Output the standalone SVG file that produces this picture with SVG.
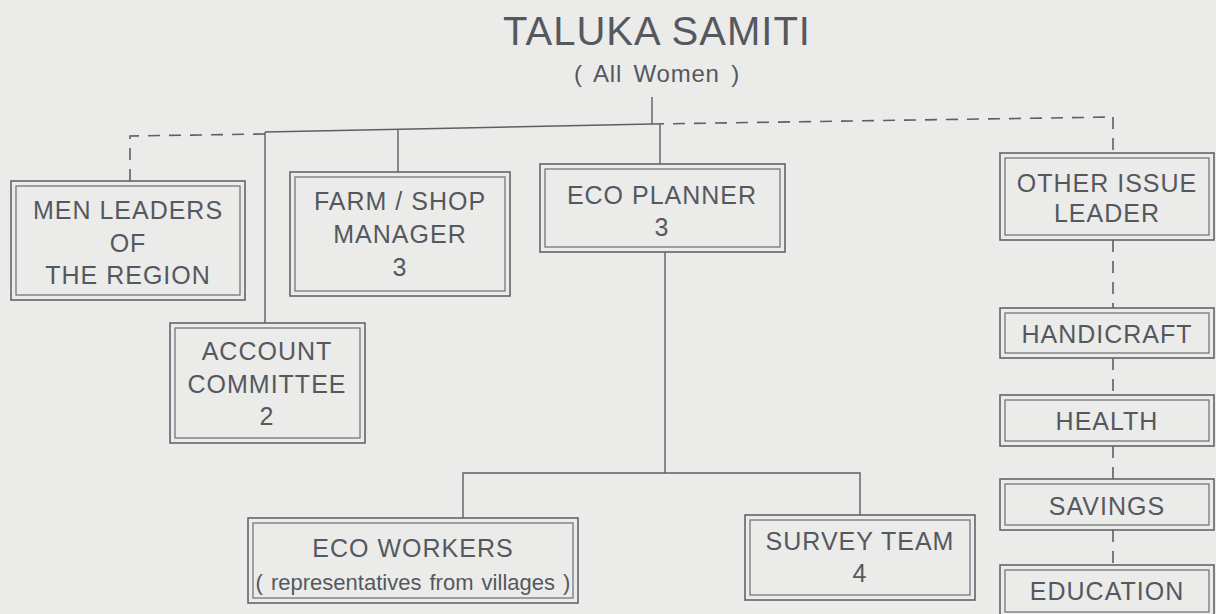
<svg xmlns="http://www.w3.org/2000/svg" width="1216" height="614" viewBox="0 0 1216 614">
<style>
.bg{fill:#ebebea}
.o{fill:none;stroke:#62656c;stroke-width:1.6}
.i{fill:none;stroke:#6a6d74;stroke-width:1.2}
.t{font-family:"Liberation Sans",Arial,sans-serif;font-size:25px;fill:#55585e;text-anchor:middle;letter-spacing:1px}
.s{font-family:"Liberation Sans",Arial,sans-serif;font-size:22px;fill:#55585e;text-anchor:middle;word-spacing:2px}
.ln{fill:none;stroke:#5c5f66;stroke-width:1.4}
.ds{fill:none;stroke:#5c5f66;stroke-width:1.6;stroke-dasharray:12 9}
</style>
<rect class="bg" x="0" y="0" width="1216" height="614"/>

<g id="title">
<text class="t" x="657" y="45" style="font-size:40px;letter-spacing:1px">TALUKA SAMITI</text>
<text class="s" x="657" y="82" style="font-size:24px;letter-spacing:0.8px;word-spacing:4px">( All Women )</text>
</g>

<g id="connectors">
<line class="ln" x1="652" y1="97" x2="652" y2="124"/>
<line class="ln" x1="265" y1="132" x2="652" y2="124"/>
<line class="ds" x1="652" y1="124" x2="1113" y2="117"/>
<polyline class="ds" points="265,134 130,136 130,181"/>
<line class="ln" x1="265" y1="132" x2="265" y2="323"/>
<line class="ln" x1="398" y1="129" x2="398" y2="172"/>
<line class="ln" x1="660" y1="124" x2="660" y2="164"/>
<line class="ln" x1="665" y1="252" x2="665" y2="473"/>
<polyline class="ln" points="463,518 463,473 860,473 860,515"/>
<line class="ds" x1="1113" y1="117" x2="1113" y2="153"/>
<line class="ds" x1="1113" y1="240" x2="1113" y2="308"/>
<line class="ds" x1="1113" y1="358" x2="1113" y2="395"/>
<line class="ds" x1="1113" y1="446" x2="1113" y2="479"/>
<line class="ds" x1="1113" y1="530" x2="1113" y2="565"/>
</g>

<g id="men-leaders">
<rect class="o" x="11" y="181" width="234" height="119"/>
<rect class="i" x="16" y="186" width="224" height="109"/>
<text class="t" x="128" y="219">MEN LEADERS</text>
<text class="t" x="128" y="252">OF</text>
<text class="t" x="128" y="284">THE REGION</text>
</g>

<g id="account-committee">
<rect class="o" x="170" y="323" width="195" height="120"/>
<rect class="i" x="175" y="328" width="185" height="110"/>
<text class="t" x="267" y="360">ACCOUNT</text>
<text class="t" x="267" y="393">COMMITTEE</text>
<text class="t" x="267" y="425">2</text>
</g>

<g id="farm-shop">
<rect class="o" x="290" y="172" width="220" height="124"/>
<rect class="i" x="295" y="177" width="210" height="114"/>
<text class="t" x="400" y="210">FARM / SHOP</text>
<text class="t" x="400" y="243">MANAGER</text>
<text class="t" x="400" y="276">3</text>
</g>

<g id="eco-planner">
<rect class="o" x="540" y="164" width="245" height="88"/>
<rect class="i" x="545" y="169" width="235" height="78"/>
<text class="t" x="662" y="204">ECO PLANNER</text>
<text class="t" x="662" y="236">3</text>
</g>

<g id="eco-workers">
<rect class="o" x="248" y="518" width="330" height="85"/>
<rect class="i" x="253" y="523" width="320" height="75"/>
<text class="t" x="413" y="557">ECO WORKERS</text>
<text class="s" x="413" y="590">( representatives from villages )</text>
</g>

<g id="survey-team">
<rect class="o" x="745" y="515" width="230" height="85"/>
<rect class="i" x="750" y="520" width="220" height="75"/>
<text class="t" x="860" y="550">SURVEY TEAM</text>
<text class="t" x="860" y="582">4</text>
</g>

<g id="other-issue-leader">
<rect class="o" x="1000" y="153" width="214" height="87"/>
<rect class="i" x="1005" y="158" width="204" height="77"/>
<text class="t" x="1107" y="192">OTHER ISSUE</text>
<text class="t" x="1107" y="222">LEADER</text>
</g>

<g id="handicraft">
<rect class="o" x="1000" y="308" width="214" height="50"/>
<rect class="i" x="1005" y="313" width="204" height="40"/>
<text class="t" x="1107" y="343">HANDICRAFT</text>
</g>

<g id="health">
<rect class="o" x="1000" y="395" width="214" height="51"/>
<rect class="i" x="1005" y="400" width="204" height="41"/>
<text class="t" x="1107" y="430">HEALTH</text>
</g>

<g id="savings">
<rect class="o" x="1000" y="479" width="214" height="51"/>
<rect class="i" x="1005" y="484" width="204" height="41"/>
<text class="t" x="1107" y="515">SAVINGS</text>
</g>

<g id="education">
<rect class="o" x="1000" y="565" width="214" height="52"/>
<rect class="i" x="1005" y="570" width="204" height="42"/>
<text class="t" x="1107" y="600">EDUCATION</text>
</g>
</svg>
